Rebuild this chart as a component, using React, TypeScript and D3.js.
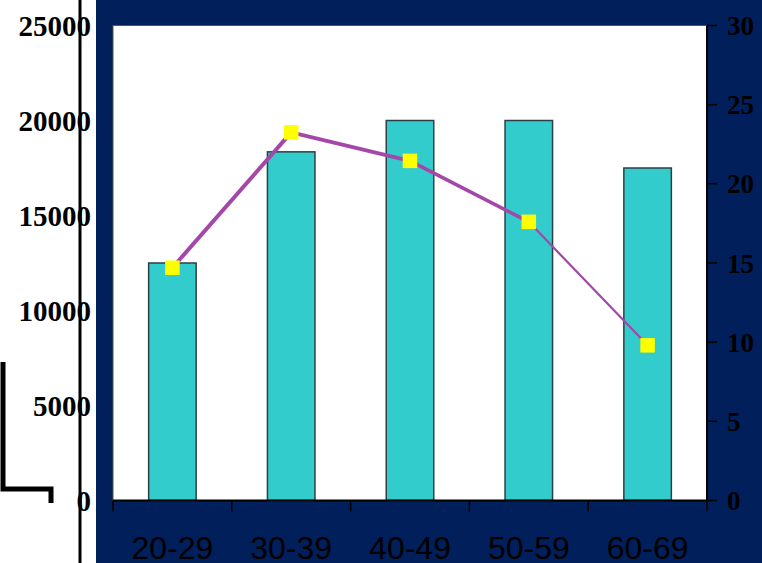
import React from "react";
import * as d3 from "d3";

const categories = ["20-29", "30-39", "40-49", "50-59", "60-69"];
const barValues = [12500, 18350, 20000, 20000, 17500];
const lineValues = [14.7, 23.25, 21.45, 17.6, 9.8];
const leftTicks = [0, 5000, 10000, 15000, 20000, 25000];
const rightTicks = [0, 5, 10, 15, 20, 25, 30];
const segmentWidths = [4, 3.6, 3.6, 2.2];

const W = 762;
const H = 563;
const plot = { left: 113, right: 707, top: 25.5, bottom: 500.5 };

export default function App() {
  const x = d3
    .scaleBand<string>()
    .domain(categories)
    .range([plot.left, plot.right])
    .paddingInner(0.6)
    .paddingOuter(0.3);
  const xb = d3.scaleBand<string>().domain(categories).range([plot.left, plot.right]);
  const yL = d3.scaleLinear().domain([0, 25000]).range([plot.bottom, plot.top]);
  const yR = d3.scaleLinear().domain([0, 30]).range([plot.bottom, plot.top]);

  const pts = categories.map((c, i) => [xb(c)! + xb.bandwidth() / 2, yR(lineValues[i])] as [number, number]);
  const line = d3.line();
  const ms = 14.5;

  return (
    <svg
      width={W}
      height={H}
      style={{ position: "absolute", left: 0, top: 0, display: "block" }}
    >
      <rect x={0} y={0} width={W} height={H} fill="#ffffff" />
      <rect x={96} y={0} width={W - 96} height={H} fill="#001f5b" />
      <rect
        x={plot.left}
        y={plot.top}
        width={plot.right - plot.left}
        height={plot.bottom - plot.top}
        fill="#ffffff"
        stroke="#555"
        strokeWidth={1}
      />
      {/* black rule and bracket on the left */}
      <line x1={80} x2={80} y1={0} y2={H} stroke="#000" strokeWidth={3} />
      <path d="M3,362 V489 H51 V503" fill="none" stroke="#000" strokeWidth={5} />

      {/* bars */}
      {categories.map((c, i) => (
        <rect
          key={c}
          x={x(c)!}
          y={yL(barValues[i])}
          width={x.bandwidth()}
          height={plot.bottom - yL(barValues[i])}
          fill="#33cccc"
          stroke="#2f3f46"
          strokeWidth={1.5}
        />
      ))}

      {/* line segments */}
      {pts.slice(1).map((p, i) => (
        <path
          key={i}
          d={line([pts[i], p])!}
          stroke="#a347a8"
          strokeWidth={segmentWidths[i]}
          fill="none"
        />
      ))}
      {pts.map((p, i) => (
        <rect key={i} x={p[0] - ms / 2} y={p[1] - ms / 2} width={ms} height={ms} fill="#ffff00" />
      ))}

      {/* bottom axis */}
      <line x1={plot.left} x2={plot.right} y1={plot.bottom} y2={plot.bottom} stroke="#000" strokeWidth={2} />
      {[...categories.map((c) => xb(c)!), plot.right].map((v, i) => (
        <line key={i} x1={v} x2={v} y1={plot.bottom} y2={plot.bottom + 11} stroke="#000" strokeWidth={1.5} />
      ))}
      {categories.map((c) => (
        <text
          key={c}
          x={xb(c)! + xb.bandwidth() / 2}
          y={559}
          textAnchor="middle"
          fontFamily="'Liberation Sans', Arial, sans-serif"
          fontSize={32}
          fill="#000"
        >
          {c}
        </text>
      ))}

      {/* right axis */}
      <line x1={plot.right} x2={plot.right} y1={plot.top} y2={plot.bottom} stroke="#000" strokeWidth={2} />
      {rightTicks.map((t) => (
        <g key={t}>
          <line x1={plot.right} x2={plot.right + 10} y1={yR(t)} y2={yR(t)} stroke="#000" strokeWidth={1.5} />
          <text
            x={727}
            y={yR(t) + 9.5}
            fontFamily="'Liberation Serif', 'Times New Roman', serif"
            fontWeight="bold"
            fontSize={27}
            fill="#000"
          >
            {t}
          </text>
        </g>
      ))}

      {/* left axis labels */}
      {leftTicks.map((t) => (
        <text
          key={t}
          x={91}
          y={yL(t) + 10.5}
          textAnchor="end"
          fontFamily="'Liberation Serif', 'Times New Roman', serif"
          fontWeight="bold"
          fontSize={29}
          fill="#000"
        >
          {t}
        </text>
      ))}
    </svg>
  );
}
